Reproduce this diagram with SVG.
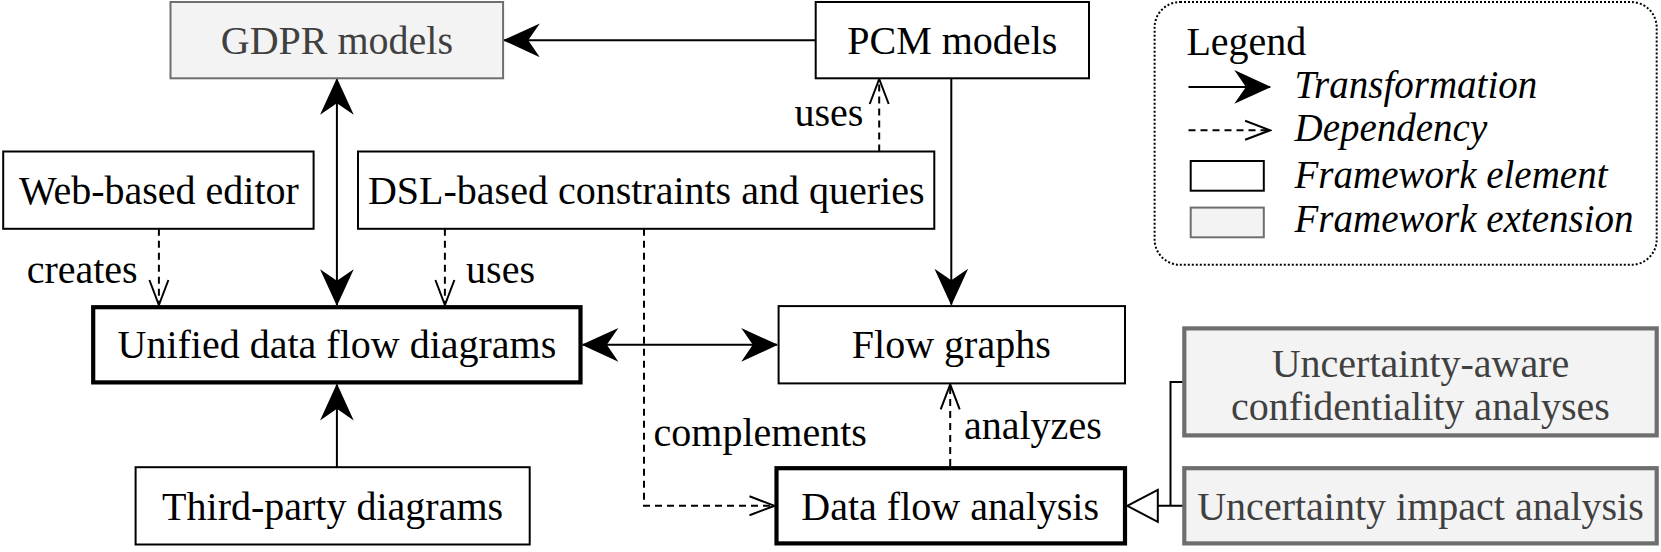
<svg xmlns="http://www.w3.org/2000/svg" width="1661" height="552" viewBox="0 0 1661 552">
<defs>
<style>
text{font-family:"Liberation Serif","DejaVu Serif",serif;font-size:40px;fill:#000}
.c{text-anchor:middle}
.g{fill:#404040}
.it{font-style:italic;font-size:39px}
.box{fill:#fff;stroke:#000;stroke-width:2}
.thick{fill:#fff;stroke:#000;stroke-width:4.2}
.ext{fill:#f3f3f3;stroke:#6e6e6e;stroke-width:2}
.extb{fill:#f3f3f3;stroke:#6e6e6e;stroke-width:4.2}
.solid{fill:none;stroke:#000;stroke-width:2}
.dash{fill:none;stroke:#000;stroke-width:2;stroke-dasharray:7 5}
</style>
<marker id="fill" markerUnits="userSpaceOnUse" markerWidth="40" markerHeight="40" viewBox="-36 -18 38 36" refX="0" refY="0" orient="auto-start-reverse">
<path d="M1,0 L-34,-16 L-23,0 L-34,16 Z" fill="#000"/>
</marker>
<marker id="open" markerUnits="userSpaceOnUse" markerWidth="30" markerHeight="26" viewBox="-28 -13 30 26" refX="0" refY="0" orient="auto-start-reverse">
<path d="M-25,-9.5 L0,0 L-25,9.5" fill="none" stroke="#000" stroke-width="2"/>
</marker>
</defs>

<g id="connectors">
<path class="solid" d="M815.7,40.3 H504" marker-end="url(#fill)"/>
<path class="solid" d="M336.9,79 V305" marker-start="url(#fill)" marker-end="url(#fill)"/>
<path class="dash" d="M158.9,228.8 V305" marker-end="url(#open)"/>
<path class="dash" d="M444.9,228.8 V305" marker-end="url(#open)"/>
<path class="dash" d="M879.2,151.5 V79" marker-end="url(#open)"/>
<path class="dash" d="M644,228.8 V505.8 H774.5" marker-end="url(#open)"/>
<path class="solid" d="M951.3,78.3 V304.5" marker-end="url(#fill)"/>
<path class="solid" d="M582.6,344.8 H777" marker-start="url(#fill)" marker-end="url(#fill)"/>
<path class="solid" d="M336.9,467.2 V384.6" marker-end="url(#fill)"/>
<path class="dash" d="M950.2,466 V384.4" marker-end="url(#open)"/>
<path class="solid" d="M1184.3,381.9 H1170.5 V505.8 M1184.3,505.8 H1157.8"/>
<polygon points="1127.2,505.8 1157.8,489.8 1157.8,521.8" fill="#fff" stroke="#000" stroke-width="2"/>
<text x="137.7" y="282.8" text-anchor="end">creates</text>
<text x="466.1" y="282.8">uses</text>
<text x="863.3" y="126" text-anchor="end">uses</text>
<text x="653.6" y="446">complements</text>
<text x="964" y="438.6">analyzes</text>
</g>

<g id="gdpr">
<rect class="ext" x="170.5" y="2" width="332.6" height="76.3"/>
<text class="c g" x="336.9" y="54">GDPR models</text>
</g>
<g id="pcm">
<rect class="box" x="815.7" y="2" width="273.3" height="76.3"/>
<text class="c" x="952.3" y="54">PCM models</text>
</g>
<g id="web-editor">
<rect class="box" x="3.2" y="151.5" width="310.4" height="77.3"/>
<text class="c" x="158.9" y="204.4">Web-based editor</text>
</g>
<g id="dsl">
<rect class="box" x="358" y="151.5" width="576.3" height="77.3"/>
<text class="c" x="646.2" y="204.4">DSL-based constraints and queries</text>
</g>
<g id="udfd">
<rect class="thick" x="93.2" y="307.2" width="487.3" height="75.2"/>
<text class="c" x="336.9" y="358">Unified data flow diagrams</text>
</g>
<g id="flow-graphs">
<rect class="box" x="778.6" y="306.1" width="346.4" height="77.3"/>
<text class="c" x="951.3" y="358">Flow graphs</text>
</g>
<g id="third-party">
<rect class="box" x="135.6" y="467.2" width="394.1" height="77.3"/>
<text class="c" x="332.6" y="520.1">Third-party diagrams</text>
</g>
<g id="dfa">
<rect class="thick" x="776.5" y="468.2" width="348.5" height="75.2"/>
<text class="c" x="950.2" y="520.1">Data flow analysis</text>
</g>
<g id="uncertainty-aware">
<rect class="extb" x="1184.3" y="328.4" width="472.4" height="107"/>
<text class="c g" x="1420.5" y="377.1">Uncertainty-aware</text>
<text class="c g" x="1420.5" y="419.5">confidentiality analyses</text>
</g>
<g id="uncertainty-impact">
<rect class="extb" x="1184.3" y="468.2" width="472.4" height="75.2"/>
<text class="c g" x="1420.5" y="520.1">Uncertainty impact analysis</text>
</g>

<g id="legend">
<rect x="1154.6" y="2.1" width="502.1" height="262.7" rx="25.4" fill="none" stroke="#000" stroke-width="2" stroke-dasharray="2 2"/>
<text x="1186.4" y="55.1">Legend</text>
<path class="solid" d="M1188.5,86.9 H1270.1" marker-end="url(#fill)"/>
<text class="it" x="1294.5" y="97.5">Transformation</text>
<path class="dash" d="M1188.5,130.3 H1270.1" marker-end="url(#open)"/>
<text class="it" x="1294.5" y="140.9">Dependency</text>
<rect class="box" x="1190.7" y="161" width="73.1" height="29.7"/>
<text class="it" x="1294.5" y="187.5">Framework element</text>
<rect class="ext" x="1190.7" y="207.6" width="73.1" height="29.7"/>
<text class="it" x="1294.5" y="232">Framework extension</text>
</g>
</svg>
